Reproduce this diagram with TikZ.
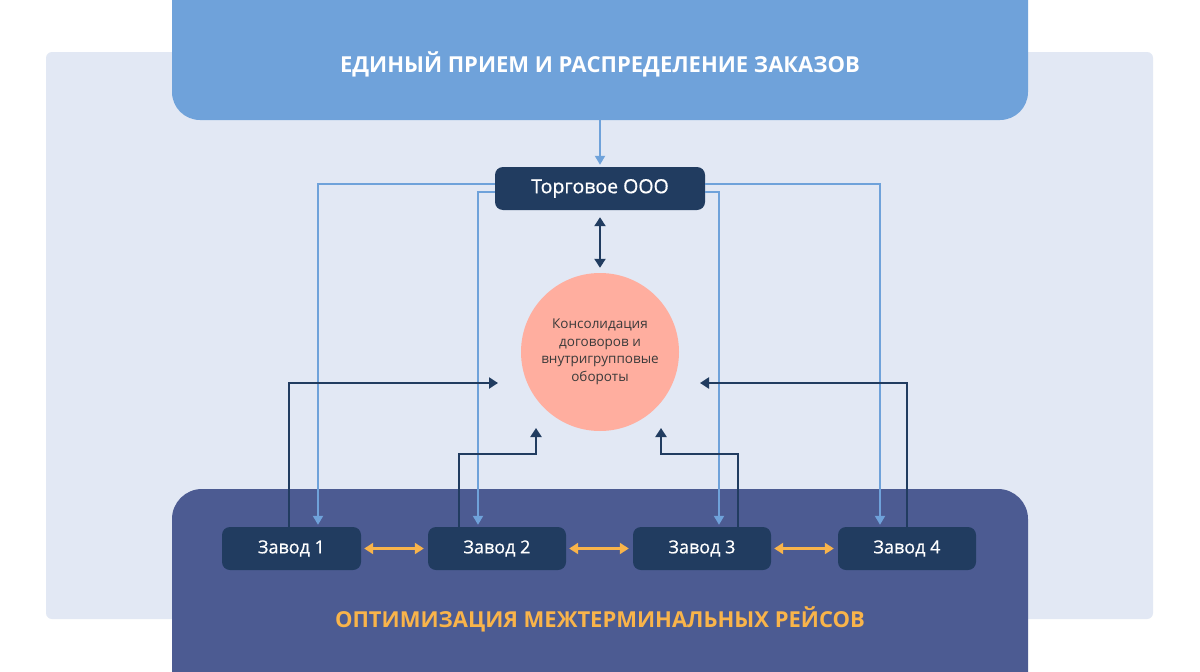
\documentclass[tikz,border=0pt]{standalone}
\usepackage{fontspec}
\setmainfont{Open Sans}
\newfontface\medfont{Open Sans}[FakeBold=0.7]
\usetikzlibrary{arrows.meta}
\definecolor{bgc}{HTML}{E2E8F4}
\definecolor{topc}{HTML}{6FA2DA}
\definecolor{botc}{HTML}{4C5B92}
\definecolor{navy}{HTML}{213C60}
\definecolor{linec}{HTML}{6FA2DA}
\definecolor{circc}{HTML}{FFAE9F}
\definecolor{orc}{HTML}{F9B44A}
\definecolor{txtc}{HTML}{3A3A3A}
\tikzset{
  navybox/.style={fill=navy,rounded corners=8pt,text=white,minimum height=43pt,inner sep=0pt,font=\medfont\fontsize{18}{20}\selectfont},
  lbline/.style={draw=linec,line width=2pt,-{Triangle[length=9pt,width=10pt]},shorten >=2pt},
  dkline/.style={draw=navy,line width=2.2pt,-{Triangle[length=9pt,width=11pt]}},
  orline/.style={draw=orc,line width=2.2pt,{Triangle[length=9pt,width=11pt]}-{Triangle[length=9pt,width=11pt]}},
}
\begin{document}
\begin{tikzpicture}[x=1pt,y=-1pt]
\useasboundingbox (0,0) rectangle (1200,672);
\clip (0,0) rectangle (1200,672);
\fill[white] (0,0) rectangle (1200,672);
\fill[bgc,rounded corners=6pt] (46,52) rectangle (1153,619);
\fill[topc,rounded corners=28pt] (172,-60) rectangle (1028,120);
\fill[botc,rounded corners=30pt] (172,489) rectangle (1028,720);
\node[text=white,font=\fontsize{22}{26}\selectfont\bfseries] (top) at (600,64) {ЕДИНЫЙ ПРИЕМ И РАСПРЕДЕЛЕНИЕ ЗАКАЗОВ};
\coordinate (topb) at (600,120);
\node[text=orc,font=\fontsize{22}{26}\selectfont\bfseries] (bot) at (600,619) {ОПТИМИЗАЦИЯ МЕЖТЕРМИНАЛЬНЫХ РЕЙСОВ};
\node[navybox,minimum width=210pt,font=\medfont\fontsize{19.5}{22}\selectfont] (tp) at (600,188.5) {Торговое ООО};
\node[circle,fill=circc,minimum size=158pt,inner sep=0pt,text=txtc,align=center,font=\fontsize{13.5}{17.5}\selectfont] (c) at (600,352) {Консолидация\\договоров и\\внутригрупповые\\обороты};
\node[navybox,minimum width=139pt] (z1) at (291.5,548.5) {Завод 1};
\node[navybox,minimum width=138pt] (z2) at (497,548.5) {Завод 2};
\node[navybox,minimum width=138pt] (z3) at (702,548.5) {Завод 3};
\node[navybox,minimum width=138pt] (z4) at (907,548.5) {Завод 4};
% light blue
\draw[lbline] (topb) -- (tp.north);
\draw[lbline] ([yshift=5pt]tp.west) -| ([xshift=26.5pt]z1.north);
\draw[lbline] ([yshift=-3pt]tp.west) -| ([xshift=-19pt]z2.north);
\draw[lbline] ([yshift=-3pt]tp.east) -| ([xshift=17pt]z3.north);
\draw[lbline] ([yshift=5pt]tp.east) -| ([xshift=-27pt]z4.north);
% dark
\coordinate (e1) at (498,383);
\coordinate (e2) at (536,428);
\coordinate (e3) at (661,428);
\coordinate (e4) at (700,383);
\draw[dkline] ([xshift=-2.5pt]z1.north) |- (e1);
\draw[dkline] ([xshift=-38pt]z2.north) |- (536,454) -- (e2);
\draw[dkline] ([xshift=36pt]z3.north) |- (661,454) -- (e3);
\draw[dkline] (z4.north) |- (e4);
\draw[draw=navy,line width=2.2pt,{Triangle[length=9pt,width=11pt]}-{Triangle[length=9pt,width=11pt]}] ([yshift=-7pt]tp.south) -- ([yshift=5pt]c.north);
% orange
\draw[orline] ([xshift=3pt]z1.east) -- ([xshift=-4pt]z2.west);
\draw[orline] ([xshift=3pt]z2.east) -- ([xshift=-4pt]z3.west);
\draw[orline] ([xshift=3pt]z3.east) -- ([xshift=-4pt]z4.west);
\end{tikzpicture}
\end{document}
